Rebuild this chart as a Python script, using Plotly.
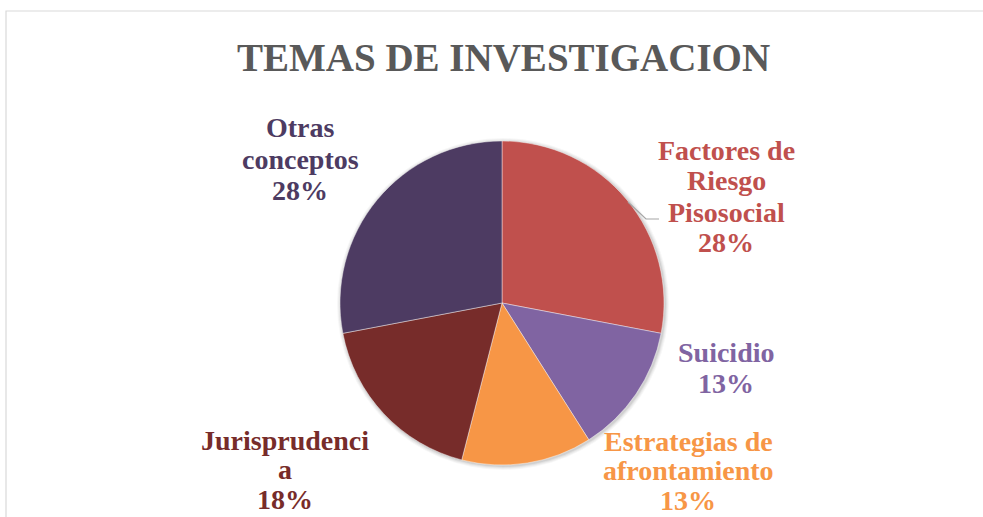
import plotly.graph_objects as go

W, H = 983, 517

categories = ["Factores de Riesgo Pisosocial", "Suicidio", "Estrategias de afrontamiento",
              "Jurisprudencia", "Otras conceptos"]
values = [28, 13, 13, 18, 28]
colors = ["#C0504D", "#8064A2", "#F79646", "#772C2A", "#4D3B62"]
label_lines = [["Factores de", "Riesgo", "Pisosocial"], ["Suicidio"], ["Estrategias de", "afrontamiento"],
               ["Jurisprudenci", "a"], ["Otras", "conceptos"]]
# label block: centre x, first line y and line step, in pixels (layout only)
label_pos = [(726, 150, 31), (726, 352, 31), (688, 441, 29.5), (285, 440, 29.5), (300, 128, 31)]
title_text = "TEMAS DE INVESTIGACION"

FONT = "Liberation Serif, DejaVu Serif, serif"

# pie placement (pixels)
CX, CY, R = 502, 303, 162

fig = go.Figure()
fig.add_trace(go.Pie(
    labels=categories, values=values, sort=False, direction="clockwise", rotation=0,
    marker=dict(colors=colors, line=dict(color="rgba(255,255,255,0.6)", width=0.7)),
    textinfo="none", hoverinfo="label+percent", showlegend=False,
    domain=dict(x=[(CX - R) / W, (CX + R) / W], y=[1 - (CY + R) / H, 1 - (CY - R) / H]),
))

total = sum(values)
annotations = []
for lines, v, c, (px, py, step) in zip(label_lines, values, colors, label_pos):
    pct = round(100 * v / total)
    for i, ln in enumerate(lines + [f"{pct}%"]):
        annotations.append(dict(
            text=f"<b>{ln}</b>", x=px / W, y=1 - (py + i * step) / H, xref="paper", yref="paper",
            xanchor="center", yanchor="middle", showarrow=False, align="center", borderpad=0,
            font=dict(family=FONT, size=28, color=c)))
annotations.append(dict(
    text=f"<b>{title_text}</b>", x=503 / W, y=1 - 57 / H, xref="paper", yref="paper",
    xanchor="center", yanchor="middle", showarrow=False,
    font=dict(family=FONT, size=39, color="#595959")))

shapes = [
    dict(type="rect", xref="paper", yref="paper", x0=6 / W, x1=1.05, y0=-0.05, y1=1 - 11 / H,
         line=dict(color="#D9D9D9", width=1.2), fillcolor="rgba(0,0,0,0)", layer="below"),
    dict(type="path", xref="paper", yref="paper",
         path=f"M {628 / W} {1 - 202 / H} L {646 / W} {1 - 219 / H} L {659 / W} {1 - 219 / H}",
         line=dict(color="#A6A6A6", width=1.2)),
]
# soft shadow around the pie
for d, a in [(4, 0.03), (3, 0.04), (2, 0.05), (1, 0.07)]:
    shapes.append(dict(type="circle", xref="paper", yref="paper", layer="below",
                       x0=(CX - R - d + 1) / W, x1=(CX + R + d + 1) / W,
                       y0=1 - (CY + R + d + 1) / H, y1=1 - (CY - R - d + 1) / H,
                       fillcolor=f"rgba(0,0,0,{a})", line=dict(width=0)))

fig.update_layout(
    width=W, height=H, margin=dict(l=0, r=0, t=0, b=0),
    paper_bgcolor="white", plot_bgcolor="white",
    annotations=annotations, shapes=shapes,
)
fig.write_html("out.html", config={"displayModeBar": False},
               post_script="document.body.style.margin='0';")
